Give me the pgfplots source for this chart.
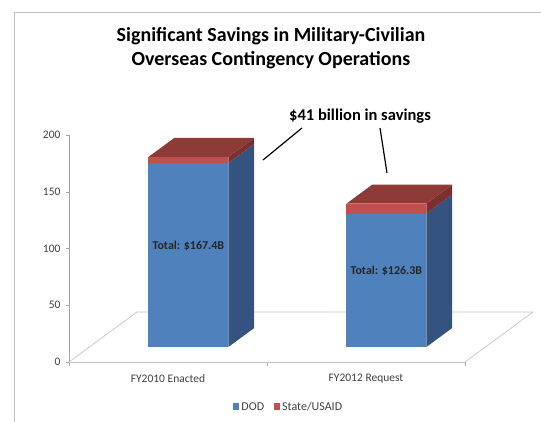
\documentclass[border=0pt]{standalone}
\usepackage{fontspec}
\setmainfont{Carlito}
\usepackage{pgfplots}
\pgfplotsset{compat=1.18}
\usepackage{pgfplotstable}

\definecolor{dodfront}{HTML}{4F81BD}
\definecolor{dodside}{HTML}{34547F}
\definecolor{stfront}{HTML}{C0504D}
\definecolor{sttop}{HTML}{8E3A37}
\definecolor{stside}{HTML}{7A302E}
\definecolor{floorgray}{HTML}{C4C4C4}
\definecolor{axgray}{HTML}{A6A6A6}
\definecolor{txtgray}{HTML}{404040}

% OCO funding, billions of dollars
\pgfplotstableread{
cat dod state
0 162.2 5.2
1 117.6 8.7
}\ocodata

\pgfplotstablegetelem{0}{dod}\of\ocodata \let\dodA\pgfplotsretval
\pgfplotstablegetelem{0}{state}\of\ocodata \let\stA\pgfplotsretval
\pgfplotstablegetelem{1}{dod}\of\ocodata \let\dodB\pgfplotsretval
\pgfplotstablegetelem{1}{state}\of\ocodata \let\stB\pgfplotsretval

% oblique depth of the floor (x in category units, y in value units)
\def\dX{0.3434}
\def\dY{44.05}
\def\fx{0.3}   % bar front sits this far into the floor
\def\bd{0.38}  % bar depth as fraction of floor depth
\def\bw{0.202} % half bar width

% #1 category, #2 DOD, #3 State/USAID
\newcommand\ocobar[3]{%
  \pgfmathsetmacro\oXl{#1-\bw+\fx*\dX}%
  \pgfmathsetmacro\oXr{#1+\bw+\fx*\dX}%
  \pgfmathsetmacro\oXs{\oXr+\bd*\dX}%
  \pgfmathsetmacro\oXt{\oXl+\bd*\dX}%
  \pgfmathsetmacro\oYb{\fx*\dY}%
  \pgfmathsetmacro\oYm{\oYb+#2}%
  \pgfmathsetmacro\oYt{\oYm+#3}%
  \pgfmathsetmacro\oYbb{\oYb+\bd*\dY}%
  \pgfmathsetmacro\oYmb{\oYm+\bd*\dY}%
  \pgfmathsetmacro\oYtb{\oYt+\bd*\dY}%
  \pgfmathsetmacro\oXc{#1+\fx*\dX}%
  \pgfmathsetmacro\oYc{\oYb+#2/2+8}%
  \pgfmathparse{#2+#3}%
  \pgfmathprintnumberto[fixed,precision=1,fixed zerofill,assume math mode=true]{\pgfmathresult}{\oTot}%
  \edef\ocodraw{%
    \noexpand\addplot[fill=dodfront,draw=none,forget plot] coordinates {(\oXl,\oYb)(\oXr,\oYb)(\oXr,\oYm)(\oXl,\oYm)};
    \noexpand\addplot[fill=stfront,draw=none,forget plot] coordinates {(\oXl,\oYm)(\oXr,\oYm)(\oXr,\oYt)(\oXl,\oYt)};
    \noexpand\addplot[fill=dodside,draw=none,forget plot] coordinates {(\oXr,\oYb)(\oXs,\oYbb)(\oXs,\oYmb)(\oXr,\oYm)};
    \noexpand\addplot[fill=stside,draw=none,forget plot] coordinates {(\oXr,\oYm)(\oXs,\oYmb)(\oXs,\oYtb)(\oXr,\oYt)};
    \noexpand\addplot[fill=sttop,draw=none,forget plot] coordinates {(\oXl,\oYt)(\oXr,\oYt)(\oXs,\oYtb)(\oXt,\oYtb)};
    \noexpand\node[font=\noexpand\bfseries\noexpand\fontsize{12}{14}\noexpand\selectfont, text=black!85] at (axis cs:\oXc,\oYc) {Total: \noexpand\$\oTot B};
  }\ocodraw
}

\begin{document}
\begin{tikzpicture}[x=1pt,y=1pt]
\useasboundingbox (0,0) rectangle (541,422);
\draw[gray!50, line width=0.8pt] (14,0) -- (14,410) -- (541,410);
\node[font=\bfseries\fontsize{20}{23.5}\selectfont, align=center] at (271,374)
  {Significant Savings in Military-Civilian\\Overseas Contingency Operations};

\begin{axis}[
  at={(69pt,60pt)}, anchor=south west,
  scale only axis, width=396pt, height=227pt,
  xmin=-0.5, xmax=1.5, ymin=0, ymax=200,
  clip=false,
  axis x line*=bottom, axis y line*=left,
  axis line style={-, draw=axgray, line width=0.7pt},
  x axis line style={draw=floorgray},
  ytick={0,50,...,200},
  xtick={0,1}, xticklabels={FY2010 Enacted, FY2012 Request},
  minor xtick={-0.5,0.5,1.5},
  major x tick style={draw=none},
  minor x tick style={draw=axgray},
  y tick style={draw=axgray},
  tick align=outside, major tick length=3pt, minor tick length=4pt,
  /pgf/number format/assume math mode=true,
  yticklabel style={font=\fontsize{11.5}{13}\selectfont, text=txtgray, xshift=-2pt},
  xticklabel style={font=\fontsize{11.5}{13}\selectfont, text=txtgray, yshift=-6pt},
  legend style={at={(0.555,-0.198)}, anchor=center, draw=none, fill=none,
    legend columns=2, font=\fontsize{12}{14}\selectfont, text=txtgray,
    /tikz/every even column/.append style={column sep=8pt}},
  legend image code/.code={\fill[#1] (0pt,-3pt) rectangle (6pt,3.5pt);},
]
% floor outline
\addplot[floorgray, line width=0.7pt, forget plot]
  coordinates {(-0.5,0) (-0.1566,44.05) (1.8434,44.05) (1.5,0)};
\addlegendimage{fill=dodfront, draw=none}
\addlegendentry{DOD}
\addlegendimage{fill=stfront, draw=none}
\addlegendentry{State/USAID}
\ocobar{0}{\dodA}{\stA}
\ocobar{1}{\dodB}{\stB}
\end{axis}

% callout
\node[font=\bfseries\fontsize{16.5}{18}\selectfont] at (360,306) {\$41 billion in savings};
\draw[line width=1.2pt] (263,262) -- (302,294);
\draw[line width=1.2pt] (380,294) -- (387,249);
\end{tikzpicture}
\end{document}
